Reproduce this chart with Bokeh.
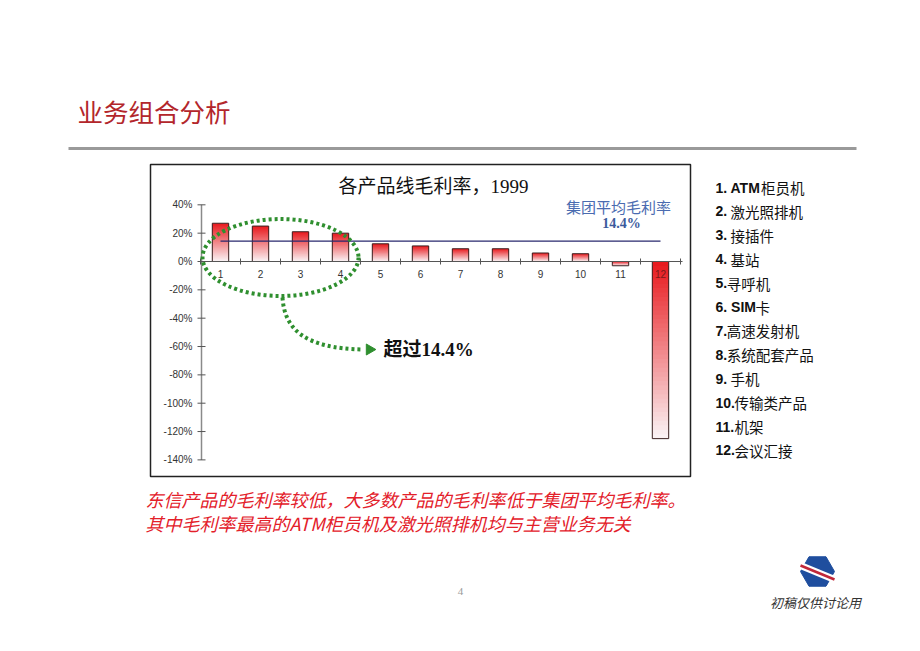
import numpy as np
from bokeh.plotting import figure
from bokeh.models import Range1d
from bokeh.core.properties import value
from bokeh.embed import file_html
from bokeh.resources import INLINE

# ---------------- data ----------------
categories = ["1", "2", "3", "4", "5", "6", "7", "8", "9", "10", "11", "12"]
gross_margin = [27, 25, 21, 20, 12.5, 11, 9, 9, 6, 5.5, -3, -125]   # %
group_average = 14.4                                                  # %
y_ticks = [40, 20, 0, -20, -40, -60, -80, -100, -120, -140]
y_tick_labels = ["40%", "20%", "0%", "-20%", "-40%", "-60%", "-80%",
                 "-100%", "-120%", "-140%"]
legend_labels = ["1. ATM柜员机", "2. 激光照排机", "3. 接插件", "4. 基站",
                 "5.寻呼机", "6. SIM卡", "7.高速发射机", "8.系统配套产品",
                 "9. 手机", "10.传输类产品", "11.机架", "12.会议汇接"]
page_title = "业务组合分析"
chart_title = "各产品线毛利率，1999"
avg_label = "集团平均毛利率"
avg_value_label = "14.4%"
callout_label = "超过14.4%"
notes = ["东信产品的毛利率较低，大多数产品的毛利率低于集团平均毛利率。",
         "其中毛利率最高的ATM柜员机及激光照排机均与主营业务无关"]
page_number = "4"
footer = "初稿仅供讨论用"

# ---------------- layout constants (pixels) ----------------
W, H = 920, 651
X0, CW = 180.0, 40.0          # category i centre at X0 + CW*i
Y0, PPP = 261.0, 1.417        # 0% at Y0, pixels per percent
BAR_W = 0.41

CJK = "Noto Sans CJK SC"
SANS = "Liberation Sans"
SERIF_MIX = "Liberation Serif, Noto Sans CJK SC"

p = figure(width=W, height=H, x_range=Range1d(0, W), y_range=Range1d(H, 0),
           output_backend="svg", toolbar_location=None, min_border=0,
           x_axis_type=None, y_axis_type=None, outline_line_color=None)
p.grid.visible = False
p.background_fill_color = "white"
p.border_fill_color = "white"

p.extra_x_ranges = {"cat": Range1d((0 - X0) / CW, (W - X0) / CW)}
p.extra_y_ranges = {"pct": Range1d(-(H - Y0) / PPP, Y0 / PPP)}

# ---------------- page decorations ----------------
p.text(x=[77], y=[110], text=[page_title], text_font=value(CJK),
       text_font_size="25.5px", text_color="#b3262b", text_baseline="middle")
p.segment(x0=[68], x1=[856], y0=[148], y1=[148], line_color="#9a9a9a", line_width=3)

# chart frame
p.quad(left=[150], right=[690], top=[164], bottom=[476], fill_color=None,
       line_color="#222222", line_width=1.5)

p.text(x=[433], y=[186], text=[chart_title], text_font=value(SERIF_MIX),
       text_font_size="19px", text_color="#111111", text_align="center",
       text_baseline="middle")

# ---------------- bars with vertical gradient ----------------
N = 40
red = np.array([232, 24, 28])
white = np.array([250, 244, 246])
cat_idx = np.arange(1, len(categories) + 1)
L, R, T, B, C = [], [], [], [], []
for i, v in zip(cat_idx, gross_margin):
    top, bot = max(v, 0), min(v, 0)
    span = top - bot
    for k in range(N):
        t0 = top - span * k / N
        f = (k + 0.5) / N
        col = red + (white - red) * f
        L.append(i - BAR_W / 2); R.append(i + BAR_W / 2)
        T.append(t0); B.append(bot)
        C.append("#%02x%02x%02x" % tuple(int(round(c)) for c in col))
p.quad(left=L, right=R, top=T, bottom=B, fill_color=C, line_color=None,
       x_range_name="cat", y_range_name="pct")
p.quad(left=cat_idx - BAR_W / 2, right=cat_idx + BAR_W / 2,
       top=[max(v, 0) for v in gross_margin], bottom=[min(v, 0) for v in gross_margin],
       fill_color=None, line_color="#3b2222", line_width=1,
       x_range_name="cat", y_range_name="pct")

# ---------------- axes ----------------
axis_x = X0 + CW * 0.5 + 1
p.segment(x0=[axis_x], x1=[axis_x], y0=[y_ticks[0]], y1=[y_ticks[-1]],
          line_color="#8a8a8a", line_width=1.5, y_range_name="pct")
p.segment(x0=[axis_x - 4] * len(y_ticks), x1=[axis_x + 4] * len(y_ticks),
          y0=y_ticks, y1=y_ticks, line_color="#555555", line_width=1,
          y_range_name="pct")
p.text(x=[axis_x - 9] * len(y_ticks), y=y_ticks, text=y_tick_labels,
       text_font=value(SANS), text_font_size="10px", text_color="#333333",
       text_align="right", text_baseline="middle", y_range_name="pct")

x_end = 12.55
p.segment(x0=[0.5], x1=[x_end], y0=[0], y1=[0], line_color="#555555",
          line_width=1.2, x_range_name="cat", y_range_name="pct")
bounds = np.arange(0.5, len(categories) + 1, 1.0)
p.segment(x0=bounds, x1=bounds, y0=[Y0 - 3] * len(bounds), y1=[Y0 + 3] * len(bounds),
          line_color="#555555", line_width=1, x_range_name="cat")
lab_cols = ["#333333"] * (len(categories) - 1) + ["#7a1a1a"]
p.text(x=cat_idx, y=[Y0 + 12] * len(categories), text=categories,
       text_font=value(SANS), text_font_size="10px", text_color=lab_cols,
       text_align="center", text_baseline="middle", x_range_name="cat")

# ---------------- group average ----------------
p.segment(x0=[1], x1=[len(categories)], y0=[group_average], y1=[group_average],
          line_color="#28286e", line_width=1.2, x_range_name="cat", y_range_name="pct")
p.text(x=[618], y=[206], text=[avg_label], text_font=value(CJK),
       text_font_size="15px", text_color="#4a6bb0", text_align="center",
       text_baseline="middle")
p.text(x=[621], y=[223], text=[avg_value_label], text_font=value("Liberation Serif"),
       text_font_size="14px", text_font_style="bold", text_color="#3b5a9c",
       text_align="center", text_baseline="middle")

# ---------------- callout ----------------
green = "#2f8f2f"
p.ellipse(x=[280], y=[257], width=[156], height=[77], fill_color=None,
          line_color=green, line_width=4, line_dash="3 3")
p.bezier(x0=[282], y0=[297], x1=[363], y1=[349], cx0=[284], cy0=[328],
         cx1=[303], cy1=[348], line_color=green, line_width=4, line_dash="3 3")
p.scatter(x=[369], y=[349], marker="triangle", size=11, angle=-np.pi / 2,
          fill_color=green, line_color=green)
p.text(x=[383], y=[349], text=[callout_label], text_font=value(SERIF_MIX),
       text_font_size="19px", text_font_style="bold", text_color="#111111",
       text_baseline="middle")

# ---------------- legend list ----------------
fs = 14
fs_cjk = 14.5
bold_w = {".": 0.278, " ": 0.278, "A": 0.722, "T": 0.611, "M": 0.833,
          "S": 0.667, "I": 0.278}
for d in "0123456789":
    bold_w[d] = 0.556
lx, ly0, ldy = 715, 187, 23.9
pre_x, pre_y, pre_t, rest_x, rest_t = [], [], [], [], []
for k, lab in enumerate(legend_labels):
    j = 0
    while j < len(lab) and ord(lab[j]) < 0x2E80:
        j += 1
    pre, rest = lab[:j], lab[j:]
    w = sum(bold_w.get(ch, 0.6) for ch in pre) * fs
    pre_x.append(lx); pre_y.append(ly0 + k * ldy); pre_t.append(pre)
    rest_x.append(lx + w - 0.5); rest_t.append(rest)
p.text(x=pre_x, y=pre_y, text=pre_t, text_font=value(SANS),
       text_font_size=f"{fs}px", text_font_style="bold", text_color="#111111",
       text_baseline="middle")
p.text(x=rest_x, y=pre_y, text=rest_t, text_font=value(CJK),
       text_font_size=f"{fs_cjk}px", text_color="#111111", text_baseline="middle")

# ---------------- notes ----------------
p.text(x=[145, 145], y=[498, 522], text=notes, text_font=value(CJK),
       text_font_size="18px", text_font_style="italic", text_color="#e3202a",
       text_baseline="middle")

# ---------------- footer ----------------
p.text(x=[460], y=[591], text=[page_number], text_font=value("Liberation Serif"),
       text_font_size="11px", text_color="#9a9a9a", text_align="center",
       text_baseline="middle")
p.scatter(x=[817], y=[571], marker="hex", size=34, fill_color="#1f4e9e",
          line_color="#1f4e9e")
p.segment(x0=[800], y0=[565], x1=[834], y1=[579], line_color="white", line_width=7)
p.segment(x0=[800], y0=[565], x1=[834], y1=[579], line_color="#c0283a", line_width=2.5)
p.text(x=[815], y=[602], text=[footer], text_font=value(CJK),
       text_font_size="13px", text_font_style="italic", text_color="#333333",
       text_align="center", text_baseline="middle")

open("out.html", "w").write(file_html(p, INLINE))
